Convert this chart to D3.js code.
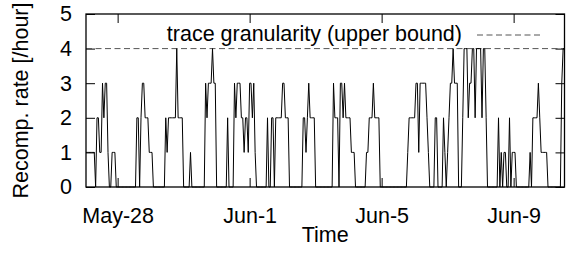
<!DOCTYPE html>
<html>
<head>
<meta charset="utf-8">
<script src="https://cdn.jsdelivr.net/npm/d3@7"></script>
<style>
  body { margin: 0; background: #fff; }
  text { font-family: "Liberation Sans", Arial, sans-serif; fill: #000; }
</style>
</head>
<body>
<script>
/*
*    recomputation rate over time
*/

// hourly samples, first one at May 27 01:00
var startTime = "2007-05-27T01:00:00Z";
var rates = [
  1,1,1,1,1,1,1,0,2,2,1,1,3,2,3,3,1,0,0,1,1,1,0,0,
  0,0,0,0,0,0,0,0,0,0,0,0,0,2,2,0,2,3,3,2,2,2,1,1,
  1,0,0,0,0,0,0,0,0,0,2,1,2,2,2,2,2,2,4,2,2,2,2,0,
  0,0,0,0,1,0,0,0,0,0,0,0,0,0,0,3,2,3,3,3,4,3,3,0,
  0,0,0,0,0,0,0,2,0,0,0,0,3,2,3,3,3,2,2,1,2,2,1,3,
  3,2,3,1,0,0,0,0,0,0,0,0,2,0,0,2,2,0,2,2,2,2,2,3,
  3,2,2,2,0,0,0,0,0,0,0,0,0,0,2,2,1,2,3,2,2,2,2,0,
  0,0,0,0,0,0,0,0,0,0,0,0,3,2,2,2,0,3,3,2,3,2,2,2,
  2,1,1,1,0,0,0,0,0,0,0,0,1,1,2,2,2,3,2,2,2,2,0,0,
  0,0,0,0,0,0,0,0,0,0,0,0,0,0,0,0,0,0,1,2,2,2,2,2,
  3,3,1,3,3,3,3,3,2,1,0,0,0,0,2,2,0,0,0,0,2,1,0,1,
  2,3,3,4,3,3,3,0,0,0,2,4,4,4,2,3,3,4,4,2,4,4,4,4,
  2,4,4,2,0,0,0,0,0,0,0,0,2,0,1,0,1,1,0,0,2,0,1,1,
  1,0,0,0,0,0,0,0,0,0,0,1,0,2,2,2,2,3,2,1,1,1,1,1,
  0,0,0,0,0,0,0,0,0,0,3,4,4
];

var granularity = 4;
var legendLabel = "trace granularity (upper bound)";

var xTickDates = ["2007-05-28T00:00:00Z", "2007-06-01T00:00:00Z", "2007-06-05T00:00:00Z", "2007-06-09T00:00:00Z"];
var xTickLabels = ["May-28", "Jun-1", "Jun-5", "Jun-9"];
var yTicks = [0, 1, 2, 3, 4, 5];

var margin = {left: 86, right: 6.5, top: 14, bottom: 68};
var width = 571 - margin.left - margin.right;
var height = 255 - margin.top - margin.bottom;
var fontSize = "21.5px";

var svg = d3.select("body")
  .append("svg")
  .attr("width", 571)
  .attr("height", 255);

var g = svg.append("g")
  .attr("transform", "translate(" + margin.left + "," + margin.top + ")");

var t0 = new Date(startTime);
var data = rates.map(function(v, i) {
  return {time: d3.utcHour.offset(t0, i), value: v};
});
var ticks = xTickDates.map(function(s) { return new Date(s); });

var x = d3.scaleUtc()
  .domain(d3.extent(data, function(d) { return d.time; }))
  .range([0, width]);

var y = d3.scaleLinear()
  .domain([0, 5])
  .range([height, 0]);

function tickLabel(d) {
  return xTickLabels[ticks.findIndex(function(t) { return +t === +d; })];
}

// axes, gnuplot style: inward ticks, mirrored on top and right
g.append("g")
  .attr("transform", "translate(0," + height + ")")
  .call(d3.axisBottom(x).tickValues(ticks).tickFormat(tickLabel)
    .tickSizeInner(-9).tickSizeOuter(0).tickPadding(21));

g.append("g")
  .call(d3.axisTop(x).tickValues(ticks).tickFormat("")
    .tickSizeInner(-9).tickSizeOuter(0));

g.append("g")
  .call(d3.axisLeft(y).tickValues(yTicks).tickFormat(d3.format("d"))
    .tickSizeInner(-9).tickSizeOuter(0).tickPadding(14));

g.append("g")
  .attr("transform", "translate(" + width + ",0)")
  .call(d3.axisRight(y).tickValues(yTicks).tickFormat("")
    .tickSizeInner(-9).tickSizeOuter(0));

g.selectAll(".domain").remove();
g.selectAll(".tick line").attr("stroke", "#000");
g.selectAll(".tick text")
  .attr("font-size", fontSize)
  .attr("font-family", "Liberation Sans, Arial, sans-serif");

// granularity line
g.append("line")
  .attr("x1", 0)
  .attr("x2", width)
  .attr("y1", y(granularity))
  .attr("y2", y(granularity))
  .attr("stroke", "#555")
  .attr("stroke-width", 1)
  .attr("stroke-dasharray", "6,3.5");

// the trace
var line = d3.line()
  .x(function(d) { return x(d.time); })
  .y(function(d) { return y(d.value); });

g.append("path")
  .datum(data)
  .attr("d", line)
  .attr("fill", "none")
  .attr("stroke", "#000")
  .attr("stroke-width", 1);

// legend
g.append("text")
  .attr("x", 462 - margin.left)
  .attr("y", 41 - margin.top)
  .attr("font-size", fontSize)
  .attr("text-anchor", "end")
  .text(legendLabel);

g.append("line")
  .attr("x1", 477 - margin.left)
  .attr("x2", 540 - margin.left)
  .attr("y1", 35 - margin.top)
  .attr("y2", 35 - margin.top)
  .attr("stroke", "#555")
  .attr("stroke-width", 1)
  .attr("stroke-dasharray", "6,3.5");

// frame
g.append("rect")
  .attr("width", width)
  .attr("height", height)
  .attr("fill", "none")
  .attr("stroke", "#000")
  .attr("stroke-width", 1.3);

// axis labels
g.append("text")
  .attr("x", width / 2)
  .attr("y", 242 - margin.top)
  .attr("font-size", fontSize)
  .attr("text-anchor", "middle")
  .text("Time");

g.append("text")
  .attr("x", -(height / 2))
  .attr("y", 28 - margin.left)
  .attr("font-size", fontSize)
  .attr("text-anchor", "middle")
  .attr("transform", "rotate(-90)")
  .text("Recomp. rate [/hour]");
</script>
</body>
</html>
